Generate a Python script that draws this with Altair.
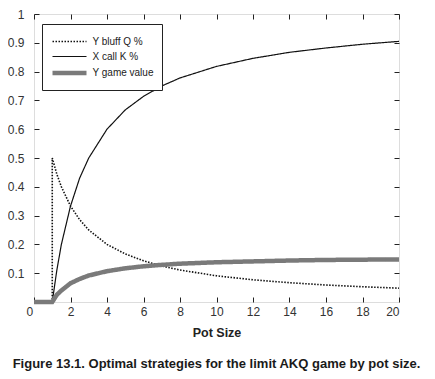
import altair as alt
import pandas as pd

series_names = ["Y bluff Q %", "X call K %", "Y game value"]

pot = [0, 1, 1, 1.25, 1.5, 2, 2.5, 3, 4, 5, 6, 7, 8, 10, 12, 14, 16, 18, 20]
y_bluff = [0, 0, 0.5, 0.444, 0.4, 0.333, 0.286, 0.25, 0.2, 0.167, 0.143, 0.125, 0.111, 0.091, 0.077, 0.067, 0.059, 0.053, 0.048]
x_call = [0, 0, 0, 0.11, 0.2, 0.333, 0.43, 0.5, 0.6, 0.667, 0.714, 0.75, 0.778, 0.818, 0.846, 0.867, 0.882, 0.895, 0.905]
game_value = [0, 0, 0, 0.025, 0.04, 0.065, 0.08, 0.092, 0.107, 0.117, 0.124, 0.129, 0.133, 0.138, 0.141, 0.144, 0.146, 0.147, 0.148]

x_ticks = list(range(0, 21, 2))
y_ticks = [0.1, 0.2, 0.3, 0.4, 0.5, 0.6, 0.7, 0.8, 0.9, 1.0]

rows = []
for name, vals in zip(series_names, [y_bluff, x_call, game_value]):
    for i, (p, v) in enumerate(zip(pot, vals)):
        rows.append({"pot": p, "value": v, "series": name, "idx": i})
df = pd.DataFrame(rows)

FONT = "Liberation Sans"

xscale = alt.Scale(domain=[0, 20], nice=False, zero=False)
yscale = alt.Scale(domain=[0, 1], nice=False)

def leg():
    return alt.Legend(
        title=None, orient="none", legendX=8, legendY=10,
        symbolType="M-2,0H2", symbolSize=289, symbolOffset=8.5,
        labelFont=FONT, labelFontSize=10, labelColor="#222222",
        strokeColor="#222222", fillColor="white", padding=8,
        rowPadding=0, labelOffset=12, labelLimit=200,
    )

color = alt.Color(
    "series:N",
    scale=alt.Scale(type="ordinal", domain=series_names, range=["#111111", "#111111", "#7a7a7a"]),
    legend=leg(),
)
dash = alt.StrokeDash(
    "series:N",
    scale=alt.Scale(type="ordinal", domain=series_names, range=[[1.5, 1.5], [1, 0], [1, 0]]),
    legend=leg(),
)
width = alt.StrokeWidth(
    "series:N",
    scale=alt.Scale(type="ordinal", domain=series_names, range=[1.6, 1.2, 4.5]),
    legend=leg(),
)

main = alt.Chart(df).mark_line().encode(
    x=alt.X("pot:Q", scale=xscale,
            axis=alt.Axis(orient="bottom", values=x_ticks, title="Pot Size", grid=False,
                          domain=False, offset=-5, tickSize=5, tickColor="#222222",
                          labelPadding=4, labelFont=FONT, labelFontSize=12, labelColor="#333333",
                          labelOffset={"condition": {"test": "datum.value == 0", "value": -8}, "value": 0},
                          titleFont=FONT, titleFontSize=12.5, titleFontWeight="bold",
                          titleColor="#222222", titlePadding=9)),
    y=alt.Y("value:Q", scale=yscale,
            axis=alt.Axis(orient="left", values=y_ticks, title=None, grid=False, format=".1~f",
                          domain=False, offset=-5, tickSize=5, tickColor="#222222",
                          labelPadding=10, labelFont=FONT, labelFontSize=12, labelColor="#333333")),
    color=color,
    strokeDash=dash,
    strokeWidth=width,
    order="idx:Q",
    detail="series:N",
)

frame_axes = alt.Chart(df).mark_line(opacity=0).encode(
    x=alt.X("pot:Q", scale=xscale,
            axis=alt.Axis(orient="top", values=x_ticks, title=None, grid=False, labels=False,
                          domain=False, offset=-5, tickSize=5, tickColor="#222222")),
    y=alt.Y("value:Q", scale=yscale,
            axis=alt.Axis(orient="right", values=y_ticks, title=None, grid=False, labels=False,
                          domain=False, offset=-5, tickSize=5, tickColor="#222222")),
    detail="series:N",
)

chart = alt.layer(frame_axes, main).resolve_axis(
    x="independent", y="independent"
).properties(
    width=365, height=288,
    autosize="none",
    padding={"left": 26, "top": 6, "right": 28, "bottom": 69},
    title=alt.Title(
        "Figure 13.1. Optimal strategies for the limit AKQ game by pot size.",
        orient="bottom", anchor="middle", font=FONT, fontSize=13,
        fontWeight="bold", color="#1a1a1a", offset=19,
    ),
).configure_view(stroke="#222222", strokeWidth=1.5).configure(background="white")

chart.save("out.html", embed_options={"renderer": "svg", "actions": False})
